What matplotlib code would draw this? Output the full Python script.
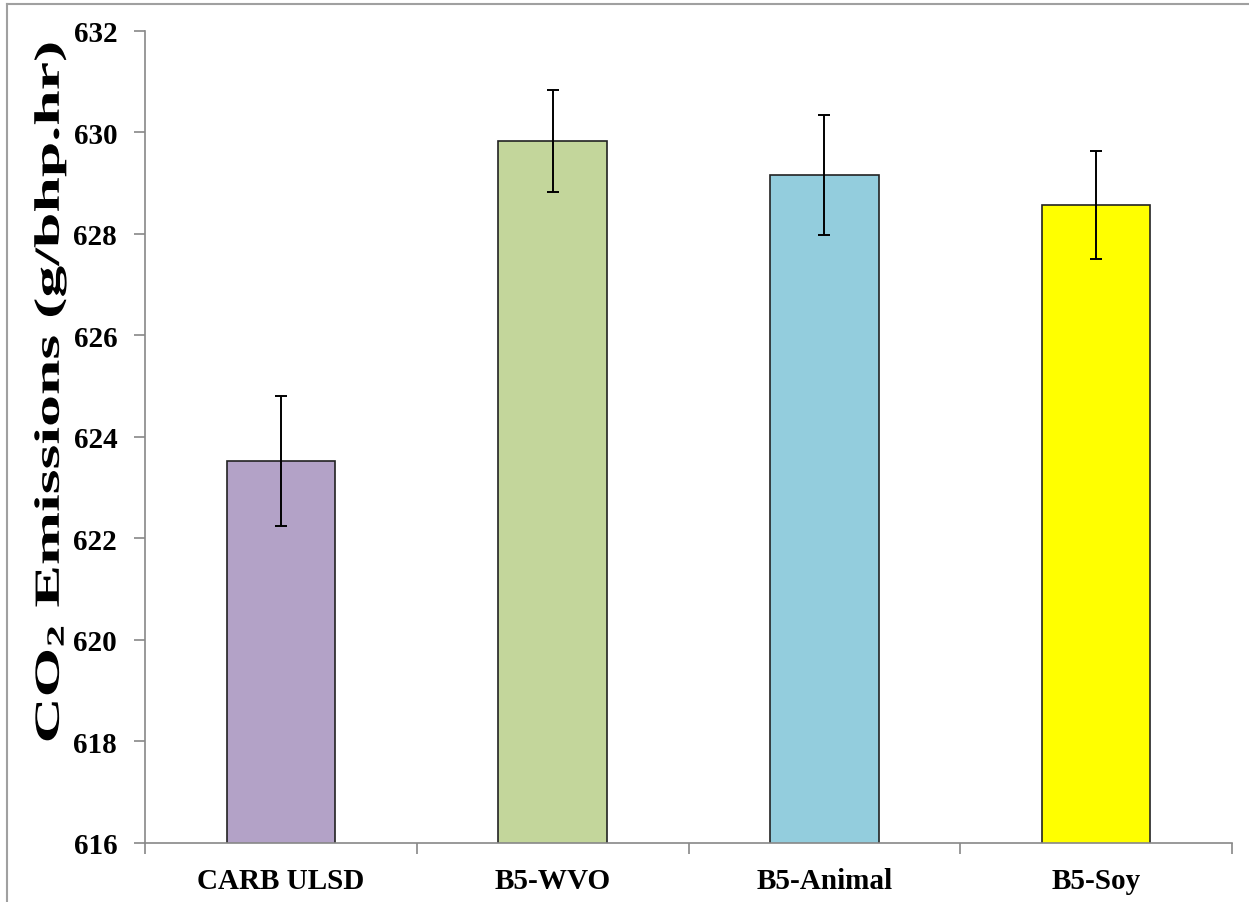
import matplotlib
matplotlib.use("Agg")
import matplotlib.pyplot as plt
from matplotlib.lines import Line2D
from matplotlib.patheffects import AbstractPathEffect
from matplotlib.transforms import Affine2D

# Fuel blends and measured CO2 emissions with their error ranges
fuels = ["CARB ULSD", "B5-WVO", "B5-Animal", "B5-Soy"]
co2 = [623.52, 629.83, 629.16, 628.57]
co2_err = [1.28, 1.01, 1.18, 1.06]
bar_colors = ["#B3A2C7", "#C3D69B", "#93CDDD", "#FFFF00"]
y_ticks = [616, 618, 620, 622, 624, 626, 628, 630, 632]


class StretchText(AbstractPathEffect):
    """Widen glyphs along the reading direction, keeping the text centred."""

    def __init__(self, sx=1.0):
        super().__init__()
        self.sx = sx

    def draw_path(self, renderer, gc, tpath, affine, rgbFace=None):
        ext = tpath.get_extents()
        cx = ext.x0 + ext.width / 2
        stretch = Affine2D().translate(-cx, 0).scale(self.sx, 1.0).translate(cx, 0)
        renderer.draw_path(gc, tpath, stretch + affine, rgbFace)


plt.rcParams["font.family"] = ["Liberation Serif", "DejaVu Serif"]
plt.rcParams["font.weight"] = "bold"
plt.rcParams["mathtext.fontset"] = "custom"
plt.rcParams["mathtext.rm"] = "Liberation Serif:bold"
plt.rcParams["mathtext.bf"] = "Liberation Serif:bold"
plt.rcParams["mathtext.it"] = "Liberation Serif:bold"
plt.rcParams["mathtext.default"] = "bf"

W, H = 1249, 903
fig = plt.figure(figsize=(W / 100, H / 100), dpi=100)
ax = fig.add_axes([145 / W, (H - 844) / H, (1232 - 145) / W, (844 - 31.7) / H])

x = list(range(len(fuels)))
ax.bar(x, co2, width=0.4, color=bar_colors, edgecolor="#222222", linewidth=1.2,
       zorder=2)
ax.errorbar(x, co2, yerr=co2_err, fmt="none", ecolor="black", elinewidth=1.4,
            capsize=4.5, capthick=1.4, zorder=3)

ax.set_xlim(-0.5, len(fuels) - 0.5)
ax.set_ylim(y_ticks[0], y_ticks[-1])
ax.set_yticks(y_ticks)
ax.set_yticklabels([str(v) for v in y_ticks], fontsize=21, fontweight="bold")

# Category labels centred under bars, tick marks on category boundaries
ax.set_xticks(x)
ax.set_xticklabels(fuels, fontsize=21, fontweight="bold")
ax.tick_params(axis="x", length=0, pad=17)
ax.set_xticks([i - 0.5 for i in range(len(fuels) + 1)], minor=True)
ax.tick_params(axis="x", which="minor", length=8, width=1.2, color="#888888",
               direction="out")
ax.tick_params(axis="y", length=8, width=1.2, color="#888888", direction="out",
               pad=12)

for side in ("top", "right"):
    ax.spines[side].set_visible(False)
for side in ("left", "bottom"):
    ax.spines[side].set_color("#888888")
    ax.spines[side].set_linewidth(1.2)

# Vertical axis title, widened along its length
fig.text(50 / W, (H - 393) / H, r"CO$_2$ Emissions (g/bhp.hr)", rotation=90,
         ha="center", va="center", fontsize=25.5, fontweight="bold",
         path_effects=[StretchText(1.8)])

# Chart-area frame along the top and left edges
fig.add_artist(Line2D([7 / W, 1.0], [(H - 5) / H, (H - 5) / H],
                      transform=fig.transFigure, color="#A0A0A0", lw=1.5))
fig.add_artist(Line2D([7 / W, 7 / W], [0, (H - 5) / H],
                      transform=fig.transFigure, color="#A0A0A0", lw=1.5))

fig.savefig("out.png", dpi=100, facecolor="white")
